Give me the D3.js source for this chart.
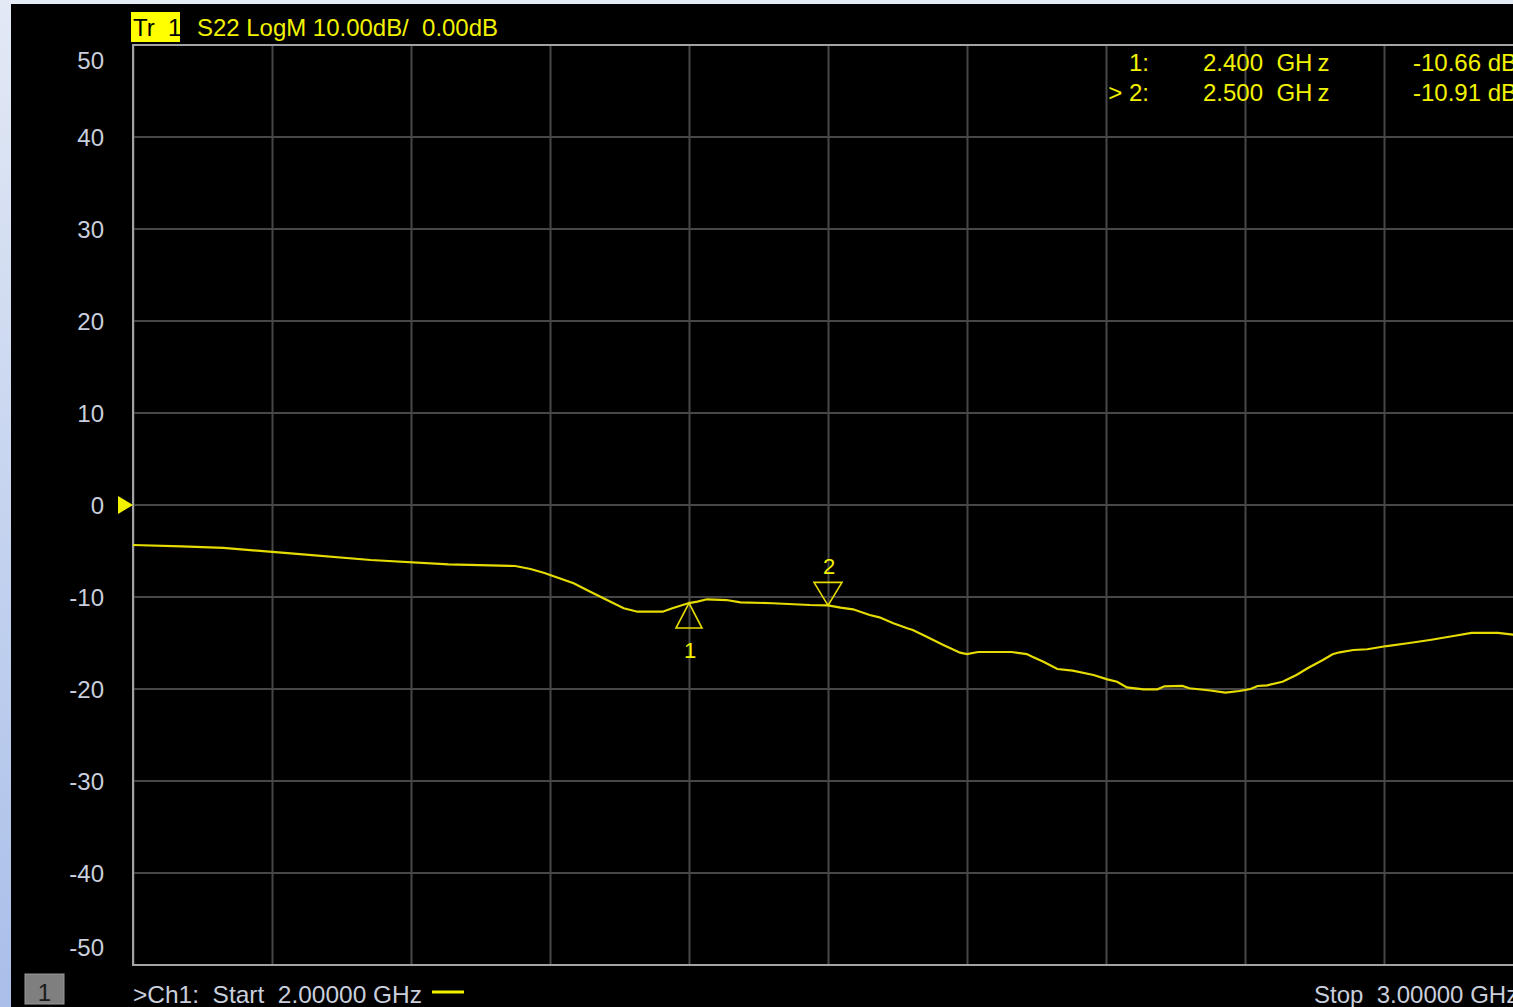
<!DOCTYPE html>
<html>
<head>
<meta charset="utf-8">
<script src="https://cdn.jsdelivr.net/npm/d3@7"></script>
<style>
  html, body { margin: 0; padding: 0; background: #000; overflow: hidden; }
  svg { display: block; font-family: "Liberation Sans", Arial, sans-serif; }
  text { white-space: pre; }
</style>
</head>
<body>
<svg id="chart" width="1513" height="1007"></svg>
<script>
// frequency (GHz) and S22 magnitude (dB)
const freqGHz = [2.000, 2.035, 2.065, 2.120, 2.171, 2.227, 2.275, 2.286, 2.296, 2.317,
  2.329, 2.341, 2.353, 2.363, 2.381, 2.388, 2.400, 2.406, 2.413, 2.427,
  2.437, 2.460, 2.487, 2.500, 2.509, 2.518, 2.530, 2.537, 2.547, 2.557,
  2.561, 2.571, 2.583, 2.595, 2.600, 2.608, 2.632, 2.643, 2.647, 2.655,
  2.665, 2.676, 2.691, 2.701, 2.708, 2.715, 2.727, 2.737, 2.742, 2.755,
  2.760, 2.775, 2.786, 2.796, 2.804, 2.809, 2.816, 2.827, 2.837, 2.845,
  2.856, 2.863, 2.868, 2.878, 2.888, 2.902, 2.917, 2.933, 2.950, 2.963,
  2.982, 2.993, 3.000];
const s22dB = [-4.35, -4.49, -4.67, -5.33, -5.98, -6.45, -6.63, -6.96, -7.39, -8.51,
  -9.42, -10.33, -11.23, -11.60, -11.60, -11.23, -10.66, -10.51, -10.25, -10.33,
  -10.58, -10.68, -10.87, -10.91, -11.16, -11.34, -11.96, -12.21, -12.86, -13.40,
  -13.59, -14.32, -15.22, -16.05, -16.20, -15.98, -15.98, -16.20, -16.49, -17.03,
  -17.83, -18.01, -18.48, -18.95, -19.21, -19.82, -20.03, -20.03, -19.71, -19.67,
  -19.92, -20.16, -20.40, -20.22, -20.00, -19.67, -19.60, -19.21, -18.48, -17.75,
  -16.85, -16.23, -16.01, -15.76, -15.68, -15.33, -15.03, -14.67, -14.24, -13.91,
  -13.91, -14.10, -14.13];

const xTicks = [2.0, 2.1, 2.2, 2.3, 2.4, 2.5, 2.6, 2.7, 2.8, 2.9, 3.0];
const yTicks = [50, 40, 30, 20, 10, 0, -10, -20, -30, -40, -50];

const markerIds = ["1", "2"];
const markerFreq = [2.4, 2.5];
const markerDB = [-10.66, -10.91];
const markerFreqLabels = ["2.400", "2.500"];
const markerDBLabels = ["-10.66 dB", "-10.91 dB"];

const W = 1513, H = 1007;
const plotL = 133, plotR = 1523, plotT = 45, plotB = 965;
const yellow = "#f2f200";
const traceColor = "#e6dc00";
const labelColor = "#c9cfdc";

const svg = d3.select("#chart");
const x = d3.scaleLinear().domain([2, 3]).range([plotL, plotR]);
const y = d3.scaleLinear().domain([-50, 50]).range([plotB, plotT]);

// window chrome
const defs = svg.append("defs");
const grad = defs.append("linearGradient").attr("id", "sideGrad")
  .attr("x1", 0).attr("y1", 0).attr("x2", 0).attr("y2", 1);
grad.append("stop").attr("offset", "0%").attr("stop-color", "#e3e9f5");
grad.append("stop").attr("offset", "100%").attr("stop-color", "#a9bfe9");
svg.append("rect").attr("width", W).attr("height", H).attr("fill", "#000");
svg.append("rect").attr("x", 0).attr("y", 0).attr("width", W).attr("height", 4).attr("fill", "#e6ecf6");
svg.append("rect").attr("x", 0).attr("y", 0).attr("width", 11).attr("height", H).attr("fill", "url(#sideGrad)");

// grid
svg.append("g").selectAll("line").data(xTicks).enter().append("line")
  .attr("x1", d => x(d) + 0.5).attr("x2", d => x(d) + 0.5)
  .attr("y1", plotT).attr("y2", plotB)
  .attr("stroke", "#474747").attr("stroke-width", 2);
svg.append("g").selectAll("line").data(yTicks).enter().append("line")
  .attr("x1", plotL).attr("x2", plotR)
  .attr("y1", d => y(d)).attr("y2", d => y(d))
  .attr("stroke", "#474747").attr("stroke-width", 2);

// plot frame
svg.append("rect").attr("x", plotL).attr("y", plotT)
  .attr("width", plotR - plotL).attr("height", plotB - plotT)
  .attr("fill", "none").attr("stroke", "#a3a3a3").attr("stroke-width", 2);

// y tick labels (end labels pulled inside)
svg.append("g").selectAll("text").data(yTicks).enter().append("text")
  .attr("x", 104)
  .attr("y", d => y(d) + (d === 50 ? 15 : d === -50 ? -18 : 0))
  .attr("dy", "0.36em")
  .attr("text-anchor", "end")
  .attr("font-size", 24)
  .attr("fill", labelColor)
  .text(d => d);

// reference level arrow
svg.append("path")
  .attr("d", `M${plotL - 15},${y(0) - 9} L${plotL},${y(0)} L${plotL - 15},${y(0) + 9} Z`)
  .attr("fill", yellow);

// trace
const trace = freqGHz.map((f, i) => [f, s22dB[i]]);
svg.append("path").datum(trace)
  .attr("d", d3.line().x(d => x(d[0])).y(d => y(d[1])))
  .attr("fill", "none").attr("stroke", traceColor).attr("stroke-width", 2.2);

// markers
markerIds.forEach((id, i) => {
  const mx = x(markerFreq[i]), my = y(markerDB[i]);
  const g = svg.append("g").attr("fill", "none").attr("stroke", traceColor).attr("stroke-width", 1.6);
  if (i === 0) {
    g.append("path").attr("d", `M${mx},${my} L${mx - 13},${my + 25} L${mx + 13},${my + 25} Z`);
    svg.append("text").attr("x", mx + 1).attr("y", my + 55).attr("text-anchor", "middle")
      .attr("font-size", 22).attr("fill", yellow).text(id);
  } else {
    g.append("path").attr("d", `M${mx},${my} L${mx - 14},${my - 23} L${mx + 14},${my - 23} Z`);
    svg.append("text").attr("x", mx + 1).attr("y", my - 31).attr("text-anchor", "middle")
      .attr("font-size", 22).attr("fill", yellow).text(id);
  }
});

// marker readout table
const readout = svg.append("g").attr("font-size", 24).attr("fill", yellow);
markerIds.forEach((id, i) => {
  const by = 71 + i * 30;
  readout.append("text").attr("x", 1149).attr("y", by).attr("text-anchor", "end")
    .text((i === 1 ? "> " : "") + id + ":");
  const t = readout.append("text").attr("x", 1203).attr("y", by);
  t.append("tspan").text(markerFreqLabels[i] + "  GH");
  t.append("tspan").attr("dx", 5).text("z");
  readout.append("text").attr("x", 1413).attr("y", by).text(markerDBLabels[i]);
});

// trace header
svg.append("rect").attr("x", 131).attr("y", 12).attr("width", 49).attr("height", 30).attr("fill", "#ffff00");
svg.append("text").attr("x", 133).attr("y", 36).attr("font-size", 24).attr("fill", "#000").text("Tr  1");
svg.append("text").attr("x", 197).attr("y", 36).attr("font-size", 24).attr("fill", yellow)
  .attr("textLength", 301).attr("lengthAdjust", "spacingAndGlyphs")
  .text("S22 LogM 10.00dB/  0.00dB");

// channel footer
svg.append("rect").attr("x", 25).attr("y", 974).attr("width", 39).attr("height", 30)
  .attr("fill", "#7f7f7f").attr("stroke", "#9a9a9a").attr("stroke-width", 1);
svg.append("text").attr("x", 44.5).attr("y", 1001).attr("text-anchor", "middle")
  .attr("font-size", 24).attr("fill", "#1b1b1b").text("1");
svg.append("text").attr("x", 133).attr("y", 1003).attr("font-size", 24).attr("fill", labelColor)
  .attr("textLength", 289).attr("lengthAdjust", "spacingAndGlyphs")
  .text(">Ch1:  Start  2.00000 GHz");
svg.append("line").attr("x1", 432).attr("x2", 464).attr("y1", 992).attr("y2", 992)
  .attr("stroke", yellow).attr("stroke-width", 3);
svg.append("text").attr("x", 1314).attr("y", 1003).attr("font-size", 24).attr("fill", labelColor)
  .text("Stop  3.00000 GHz");
</script>
</body>
</html>
